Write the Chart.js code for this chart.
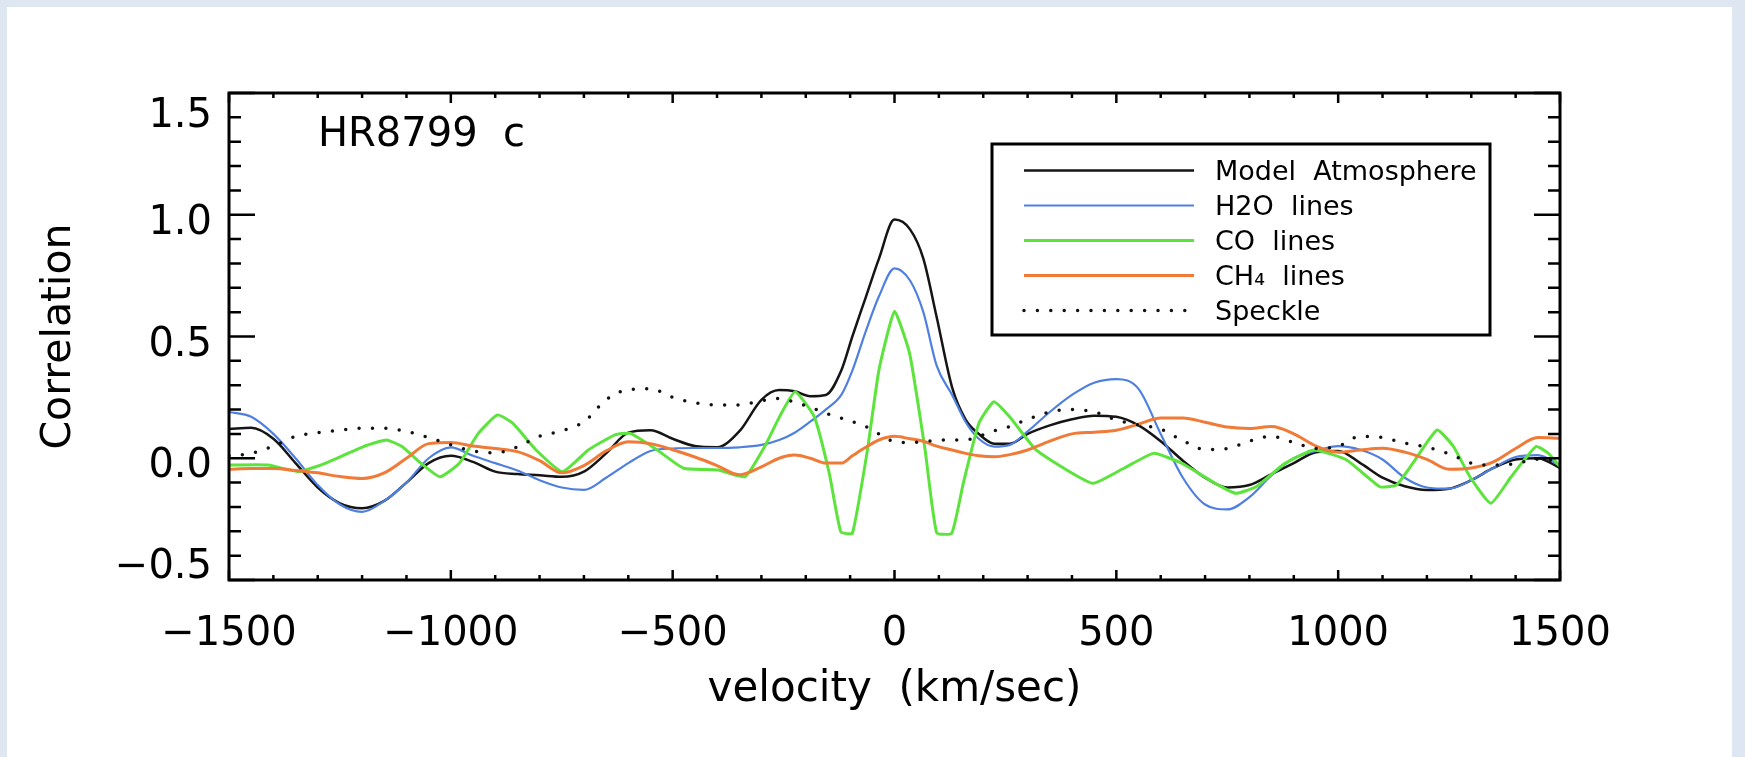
<!DOCTYPE html>
<html>
<head>
<meta charset="utf-8">
<title>HR8799 c cross-correlation</title>
<script src="https://cdn.jsdelivr.net/npm/chart.js@4.4.0/dist/chart.umd.min.js"></script>
<style>
  html, body { margin: 0; padding: 0; background: #fff; }
  canvas { display: block; }
</style>
</head>
<body>
<canvas id="chart" width="1745" height="757"></canvas>
<script>
// velocity grid (km/s) shared by the smooth curves
const velocity = [-1500, -1450, -1400, -1350, -1300, -1250, -1200, -1150, -1100, -1050,
  -1000, -950, -900, -850, -800, -750, -700, -650, -600, -550, -500, -450, -400, -350, -300,
  -260, -225, -190, -155, -120, -95, -65, -35, 0, 35, 65, 95, 130, 160, 190, 225, 260,
  300, 350, 400, 450, 500, 550, 600, 650, 700, 750, 800, 850, 900, 950, 1000,
  1050, 1100, 1150, 1200, 1250, 1300, 1350, 1400, 1450, 1500];

const modelAtmosphere = [0.12, 0.125, 0.08, -0.02, -0.12, -0.185, -0.205, -0.175, -0.10, -0.02,
  0.01, -0.015, -0.055, -0.065, -0.07, -0.076, -0.055, 0.02, 0.105, 0.115, 0.08, 0.05, 0.045, 0.11, 0.24,
  0.28, 0.275, 0.255, 0.26, 0.36, 0.5, 0.66, 0.82, 0.98, 0.94, 0.82, 0.58, 0.29, 0.16, 0.1, 0.06, 0.06,
  0.1, 0.135, 0.16, 0.175, 0.17, 0.135, 0.07, -0.01, -0.08, -0.12, -0.11, -0.065, -0.02, 0.025, 0.03,
  -0.02, -0.08, -0.115, -0.13, -0.125, -0.09, -0.04, -0.005, 0.0, -0.04];

const h2oLines = [0.19, 0.17, 0.10, 0.0, -0.11, -0.19, -0.22, -0.175, -0.10, 0.0,
  0.045, 0.01, -0.02, -0.05, -0.09, -0.12, -0.13, -0.08, -0.02, 0.03, 0.04, 0.042, 0.042, 0.045, 0.055,
  0.075, 0.105, 0.15, 0.2, 0.26, 0.36, 0.52, 0.665, 0.78, 0.73, 0.6, 0.38, 0.26, 0.15, 0.08, 0.048, 0.055,
  0.11, 0.19, 0.26, 0.31, 0.325, 0.285, 0.1, -0.08, -0.19, -0.21, -0.16, -0.07, 0.0, 0.03, 0.05,
  0.035, -0.005, -0.08, -0.12, -0.125, -0.09, -0.04, 0.005, 0.013, -0.03];

const ch4Lines = [-0.045, -0.042, -0.042, -0.05, -0.06, -0.075, -0.083, -0.06, 0.0, 0.06,
  0.065, 0.05, 0.04, 0.027, -0.01, -0.06, -0.03, 0.03, 0.068, 0.06, 0.035, 0.005, -0.03, -0.068, -0.035,
  0.0, 0.013, 0.0, -0.02, -0.02, 0.01, 0.045, 0.075, 0.09, 0.08, 0.07, 0.05, 0.034, 0.02, 0.01, 0.006, 0.015,
  0.034, 0.07, 0.1, 0.107, 0.115, 0.14, 0.165, 0.165, 0.148, 0.128, 0.122, 0.13, 0.1, 0.05, 0.025,
  0.034, 0.041, 0.025, -0.005, -0.045, -0.04, -0.015, 0.04, 0.085, 0.082];

const speckle = [0.01, 0.02, 0.05, 0.09, 0.105, 0.115, 0.123, 0.123, 0.11, 0.085,
  0.055, 0.03, 0.022, 0.047, 0.09, 0.113, 0.15, 0.24, 0.282, 0.285, 0.25, 0.228, 0.219, 0.219, 0.236,
  0.245, 0.23, 0.21, 0.185, 0.165, 0.15, 0.13, 0.1, 0.068, 0.064, 0.068, 0.074, 0.075, 0.075, 0.09, 0.113, 0.13,
  0.16, 0.19, 0.2, 0.19, 0.157, 0.137, 0.12, 0.072, 0.036, 0.04, 0.07, 0.09, 0.065, 0.04, 0.05,
  0.09, 0.085, 0.062, 0.045, 0.018, -0.02, -0.028, -0.022, -0.004, -0.014];

// the CO curve is coarser, with sharp corners, so it keeps its own velocities
const coVelocity = [-1500, -1412, -1343, -1283, -1197, -1145, -1110, -1067, -1024, -981, -938, -895,
  -860, -808, -748, -690, -630, -595, -535, -475, -397, -337, -293, -259, -224, -181, -147, -121,
  -95, -61, -35, 0, 34, 69, 95, 129, 155, 190, 224, 259, 319, 388, 448, 517, 584, 648, 723, 769,
  815, 880, 945, 1019, 1094, 1131, 1168, 1223, 1260, 1297, 1344, 1390, 1446, 1474, 1500];
const coLines = [-0.028, -0.028, -0.055, -0.021, 0.048, 0.075, 0.048, -0.021, -0.076, -0.021, 0.102, 0.178,
  0.143, 0.034, -0.055, 0.034, 0.096, 0.102, 0.034, -0.041, -0.048, -0.076, 0.047, 0.171, 0.273, 0.171, -0.062, -0.302,
  -0.308, 0.034, 0.363, 0.602, 0.431, 0.034, -0.306, -0.308, -0.103, 0.143, 0.232, 0.171, 0.034, -0.048, -0.103, -0.041,
  0.02, -0.021, -0.103, -0.144, -0.117, -0.021, 0.034, -0.007, -0.117, -0.11, -0.021, 0.116, 0.048, -0.076, -0.185,
  -0.076, 0.048, 0.02, -0.035];

// axes
const xTicks = [-1500, -1000, -500, 0, 500, 1000, 1500];
const yTicks = [-0.5, 0.0, 0.5, 1.0, 1.5];
const yTickLabels = ['\u22120.5', '0.0', '0.5', '1.0', '1.5'];
const targetName = 'HR8799  c';

const FONT = "'DejaVu Sans', 'Liberation Sans', sans-serif";

const toPoints = (xs, ys) => xs.map((v, i) => ({x: v, y: ys[i]}));

// frame, inward ticks on all four sides, y labels, panel text and boxed legend
const framePlugin = {
    id: 'frame',
    beforeDraw(chart) {
        const {ctx, width, height} = chart;
        ctx.save();
        ctx.fillStyle = '#ffffff';
        ctx.fillRect(0, 0, width, height);
        ctx.fillStyle = '#dde6f1';
        ctx.fillRect(0, 0, width, 7);
        ctx.fillRect(0, 0, 7, height);
        ctx.fillRect(width - 13, 0, 13, height);
        ctx.restore();
    },
    afterDraw(chart) {
        const {ctx, chartArea, scales} = chart;
        const {left, right, top, bottom} = chartArea;
        const xs = scales.x, ys = scales.y;
        ctx.save();
        ctx.strokeStyle = '#000';
        ctx.lineCap = 'butt';

        // x ticks every 100, major every 500
        ctx.lineWidth = 2.5;
        ctx.beginPath();
        for (let v = xs.min; v <= xs.max; v += 100) {
            const px = xs.getPixelForValue(v);
            const len = (v % 500 === 0) ? 10 : 5;
            ctx.moveTo(px, bottom); ctx.lineTo(px, bottom - len);
            ctx.moveTo(px, top); ctx.lineTo(px, top + len);
        }
        // y ticks every 0.1, major every 0.5
        for (let i = 0; i <= 20; i++) {
            const v = ys.min + i * 0.1;
            const py = ys.getPixelForValue(v);
            const len = (i % 5 === 0) ? 26 : 12;
            ctx.moveTo(left, py); ctx.lineTo(left + len, py);
            ctx.moveTo(right, py); ctx.lineTo(right - len, py);
        }
        ctx.stroke();

        ctx.lineWidth = 3;
        ctx.strokeRect(left, top, right - left, bottom - top);

        // y tick labels, end labels pulled inside the axis range
        ctx.fillStyle = '#000';
        ctx.font = '40px ' + FONT;
        ctx.textAlign = 'right';
        ctx.textBaseline = 'alphabetic';
        yTicks.forEach((v, i) => {
            let base = ys.getPixelForValue(v) + 19;
            if (i === 0) base = bottom - 2;
            if (i === yTicks.length - 1) base = top + 34;
            ctx.fillText(yTickLabels[i], left - 17, base);
        });

        // target name in the upper left
        ctx.textAlign = 'left';
        ctx.fillText(targetName, left + 89, top + 53);

        // legend box
        const box = {x: 992, y: 144, w: 498, h: 191};
        ctx.lineWidth = 3;
        ctx.strokeRect(box.x, box.y, box.w, box.h);
        ctx.font = '27px ' + FONT;
        chart.data.datasets.forEach((ds, i) => {
            const ly = box.y + 26.5 + i * 35;
            ctx.save();
            ctx.strokeStyle = ds.borderColor;
            ctx.lineWidth = ds.borderWidth;
            ctx.lineCap = ds.borderCapStyle || 'butt';
            ctx.setLineDash(ds.borderDash || []);
            ctx.beginPath();
            ctx.moveTo(box.x + 32, ly);
            ctx.lineTo(box.x + 202, ly);
            ctx.stroke();
            ctx.restore();
            ctx.fillText(ds.label, box.x + 223, ly + 9.5);
        });
        ctx.restore();
    }
};

const ctx = document.getElementById('chart').getContext('2d');
const chart = new Chart(ctx, {
    type: 'line',
    data: {
        datasets: [
            {
                label: 'Model  Atmosphere',
                data: toPoints(velocity, modelAtmosphere),
                borderColor: '#151515',
                borderWidth: 2.5,
                cubicInterpolationMode: 'monotone',
                order: 5
            },
            {
                label: 'H2O  lines',
                data: toPoints(velocity, h2oLines),
                borderColor: '#4f80e0',
                borderWidth: 2.2,
                cubicInterpolationMode: 'monotone',
                order: 4
            },
            {
                label: 'CO  lines',
                data: toPoints(coVelocity, coLines),
                borderColor: '#5ce43c',
                borderWidth: 3,
                tension: 0.15,
                order: 3
            },
            {
                label: 'CH\u2084  lines',
                data: toPoints(velocity, ch4Lines),
                borderColor: '#f07a36',
                borderWidth: 3,
                cubicInterpolationMode: 'monotone',
                order: 2
            },
            {
                label: 'Speckle',
                data: toPoints(velocity, speckle),
                borderColor: '#111111',
                borderWidth: 3.5,
                borderDash: [0, 13.4],
                borderCapStyle: 'round',
                cubicInterpolationMode: 'monotone',
                order: 1
            }
        ]
    },
    options: {
        responsive: false,
        animation: false,
        events: [],
        layout: { padding: { left: 0, top: 93, right: 185, bottom: 0 } },
        elements: { point: { radius: 0 } },
        plugins: {
            legend: { display: false },
            tooltip: { enabled: false }
        },
        scales: {
            x: {
                type: 'linear',
                min: -1500,
                max: 1500,
                afterFit: (scale) => { scale.height = 177; },
                afterBuildTicks: (scale) => { scale.ticks = xTicks.map(v => ({value: v})); },
                grid: { display: false, drawTicks: false },
                border: { display: false },
                ticks: {
                    autoSkip: false,
                    maxRotation: 0,
                    padding: 31,
                    color: '#000',
                    font: { family: FONT, size: 40 },
                    callback: (v) => (v < 0 ? '\u2212' + Math.abs(v) : String(v))
                },
                title: {
                    display: true,
                    text: 'velocity  (km/sec)',
                    color: '#000',
                    font: { family: FONT, size: 42 },
                    padding: { top: 0, bottom: 42 }
                }
            },
            y: {
                type: 'linear',
                min: -0.5,
                max: 1.5,
                afterFit: (scale) => { scale.width = 229; },
                grid: { display: false, drawTicks: false },
                border: { display: false },
                ticks: { display: false },
                title: {
                    display: true,
                    text: 'Correlation',
                    color: '#000',
                    font: { family: FONT, size: 41 },
                    padding: { top: 35, bottom: 0 }
                }
            }
        }
    },
    plugins: [framePlugin]
});
</script>
</body>
</html>
